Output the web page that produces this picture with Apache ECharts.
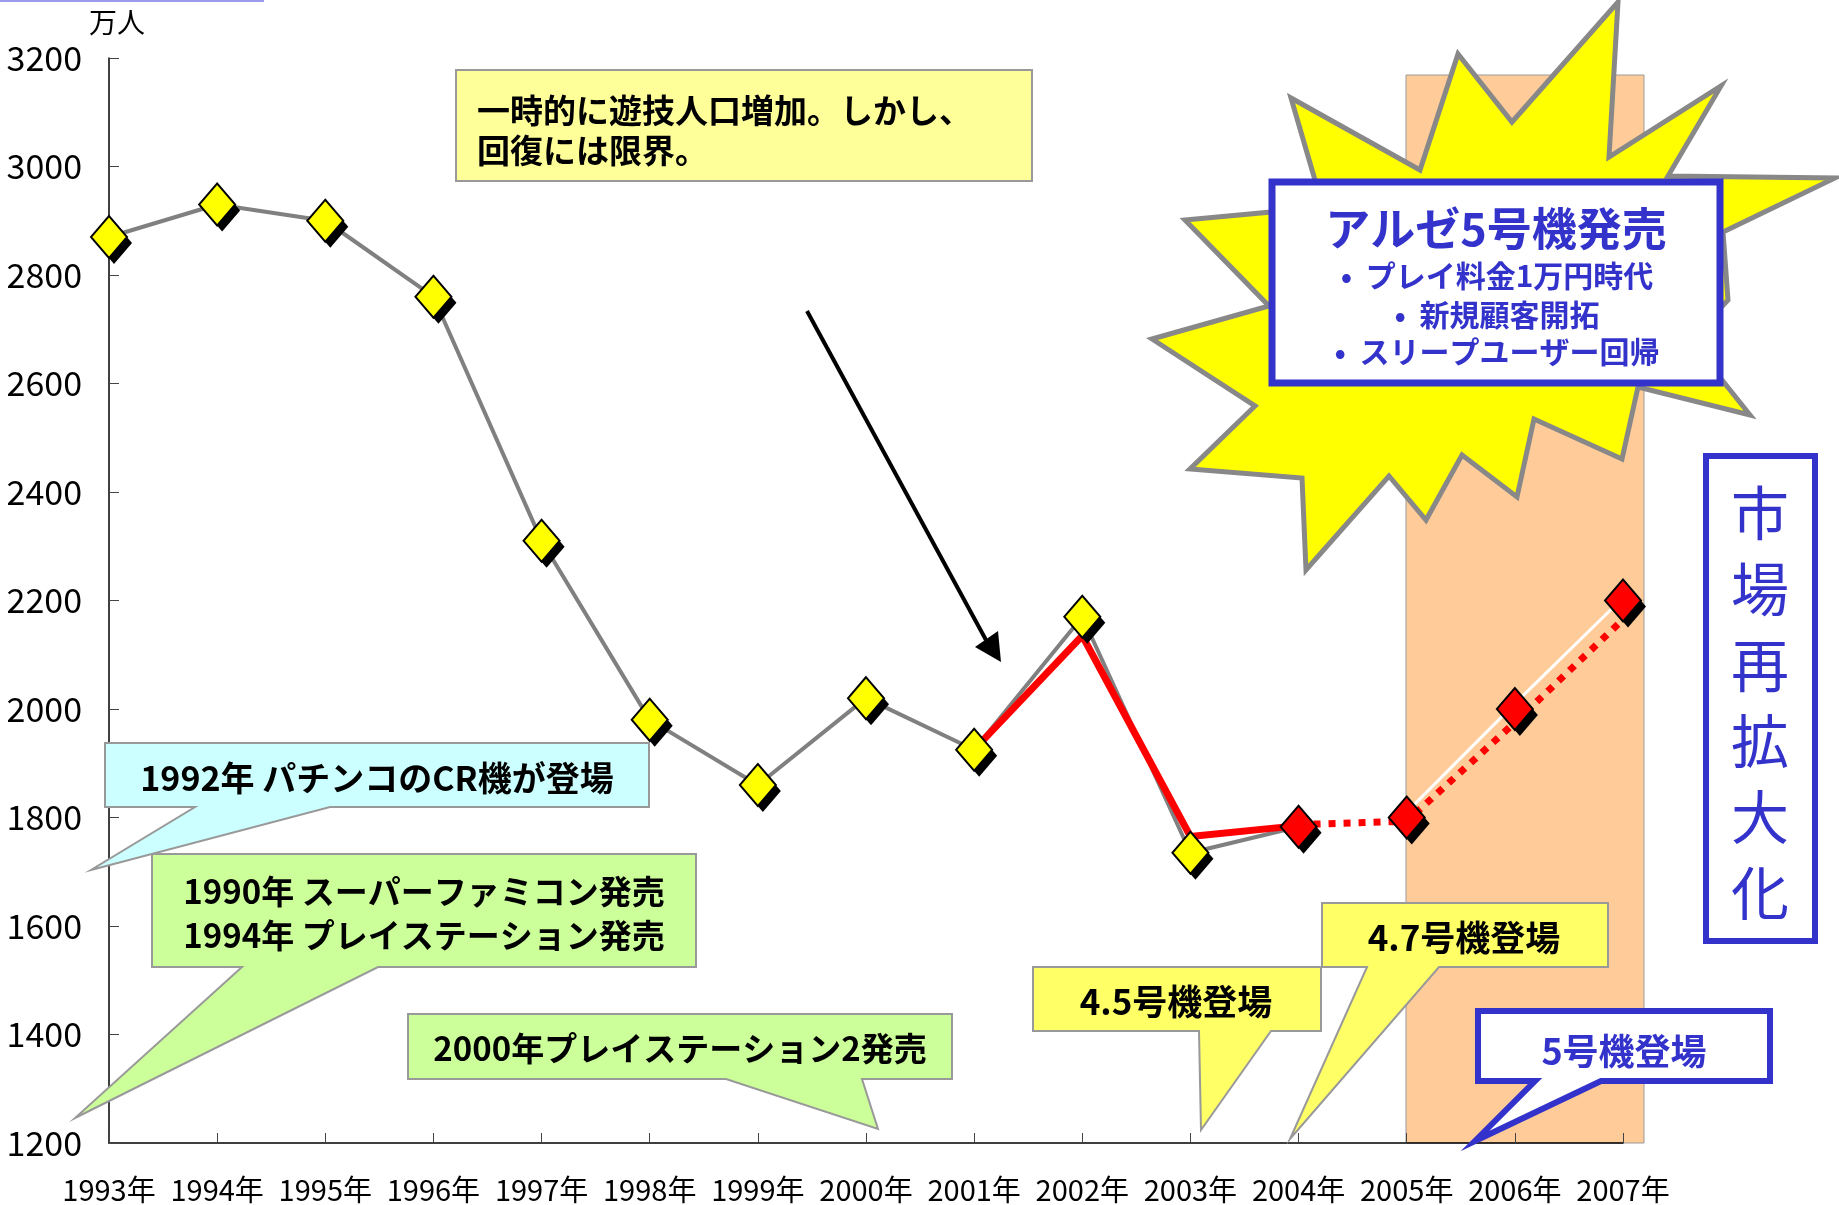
<!DOCTYPE html>
<html>
<head>
<meta charset="utf-8">
<script src="https://cdn.jsdelivr.net/npm/echarts@6/dist/echarts.min.js"></script>
<style>
  html, body { margin: 0; padding: 0; background: #fff; }
  #container { width: 1839px; height: 1205px; }
</style>
</head>
<body>
<div id="container"></div>
<script>
var years = ['1993年', '1994年', '1995年', '1996年', '1997年', '1998年', '1999年', '2000年',
  '2001年', '2002年', '2003年', '2004年', '2005年', '2006年', '2007年'];
// 遊技人口 (万人)
var yellowPoints = [2870, 2930, 2900, 2760, 2310, 1980, 1860, 2020, 1925, 2170, 1735, '-', '-', '-', '-'];
var redPoints = ['-', '-', '-', '-', '-', '-', '-', '-', '-', '-', '-', 1783, 1800, 2000, 2200];
var grayLine = [2870, 2930, 2900, 2760, 2310, 1980, 1860, 2020, 1925, 2170, 1735, 1783, '-', '-', '-'];
var redLine = ['-', '-', '-', '-', '-', '-', '-', '-', 1925, 2135, 1765, 1785, '-', '-', '-'];
var dottedLine = ['-', '-', '-', '-', '-', '-', '-', '-', '-', '-', '-', 1787, 1793, 1975, 2165];
var whiteLine = ['-', '-', '-', '-', '-', '-', '-', '-', '-', '-', '-', '-', 1810, 2010, 2205];
var yMin = 1200, yMax = 3200, yStep = 200;

var dom = document.getElementById('container');
var myChart = echarts.init(dom, null, { renderer: 'canvas' });

var labelFont = "'Liberation Sans Narrow', 'Noto Sans CJK JP', sans-serif";
var jp = "'Noto Sans CJK JP', sans-serif";
var BLUE = '#3333CC';

// callout = box + tail in one outline
function callout(x1, y1, x2, y2, a, b, tx, ty) {
  return [[x1, y1], [x2, y1], [x2, y2], [b, y2], [tx, ty], [a, y2], [x1, y2]];
}

var starPts = [[1618, 2], [1609, 157], [1721, 86], [1668, 176], [1835, 178], [1723, 232], [1728, 300],
  [1690, 340], [1750, 415], [1638, 387], [1622, 459], [1534, 419], [1517, 497], [1462, 455], [1426, 520],
  [1389, 476], [1306, 570], [1302, 478], [1190, 469], [1255, 406], [1152, 339], [1269, 306], [1185, 220],
  [1271, 212], [1315, 180], [1291, 98], [1420, 170], [1458, 54], [1512, 122]];

function txt(text, x, y, size, opts) {
  opts = opts || {};
  return {
    type: 'text', z: 110,
    style: {
      text: text, x: x, y: y,
      fontSize: size, fontWeight: opts.weight || 'bold', fontFamily: jp,
      fill: opts.color || '#000', align: opts.align || 'center', verticalAlign: 'middle',
      lineHeight: opts.lineHeight
    }
  };
}

var graphics = [
  // 2005年以降の背景
  { type: 'rect', z: 0, shape: { x: 1406, y: 75, width: 238, height: 1068 },
    style: { fill: '#FFCC99', stroke: '#999', lineWidth: 1 } },
  { type: 'rect', z: 100, shape: { x: 0, y: 0, width: 264, height: 2 }, style: { fill: '#9999EE' } },
  txt('万人', 117, 22, 28, { weight: 'normal' }),
  // 吹き出し
  { type: 'rect', z: 100, shape: { x: 456, y: 70, width: 576, height: 111 },
    style: { fill: '#FFFF99', stroke: '#999', lineWidth: 2 } },
  txt('一時的に遊技人口増加。しかし、\n回復には限界。', 477, 130, 33, { align: 'left', lineHeight: 40 }),
  { type: 'polygon', z: 100, shape: { points: callout(105, 743, 649, 807, 195, 330, 91, 870) },
    style: { fill: '#CCFFFF', stroke: '#999', lineWidth: 2 } },
  txt('1992年 パチンコのCR機が登場', 377, 778, 34),
  { type: 'polygon', z: 100, shape: { points: callout(152, 854, 696, 967, 242, 378, 75, 1118) },
    style: { fill: '#CCFF99', stroke: '#999', lineWidth: 2 } },
  txt('1990年 スーパーファミコン発売\n1994年 プレイステーション発売', 424, 913, 33, { lineHeight: 44 }),
  { type: 'polygon', z: 100, shape: { points: callout(408, 1014, 952, 1079, 726, 862, 878, 1129) },
    style: { fill: '#CCFF99', stroke: '#999', lineWidth: 2 } },
  txt('2000年プレイステーション2発売', 680, 1048, 33),
  { type: 'polygon', z: 100, shape: { points: callout(1033, 967, 1321, 1031, 1199, 1271, 1201, 1130) },
    style: { fill: '#FFFF66', stroke: '#999', lineWidth: 2 } },
  txt('4.5号機登場', 1176, 1002, 35),
  { type: 'polygon', z: 101, shape: { points: callout(1322, 903, 1608, 967, 1367, 1439, 1290, 1139) },
    style: { fill: '#FFFF66', stroke: '#999', lineWidth: 2 } },
  txt('4.7号機登場', 1464, 938, 35),
  { type: 'polygon', z: 100, shape: { points: callout(1478, 1011, 1770, 1081, 1535, 1601, 1475, 1141) },
    style: { fill: '#fff', stroke: BLUE, lineWidth: 6, lineJoin: 'miter' } },
  txt('5号機登場', 1624, 1051, 36, { color: BLUE }),
  // 矢印
  { type: 'line', z: 100, shape: { x1: 807, y1: 311, x2: 986, y2: 640 },
    style: { stroke: '#000', lineWidth: 4 } },
  { type: 'polygon', z: 100, shape: { points: [[1001, 662], [975, 647], [998, 631]] },
    style: { fill: '#000' } },
  // 爆発マーク
  { type: 'polygon', z: 100, shape: { points: starPts },
    style: { fill: '#FFFF00', stroke: '#888', lineWidth: 5, lineJoin: 'miter' } },
  { type: 'rect', z: 101, shape: { x: 1272, y: 182, width: 448, height: 201 },
    style: { fill: '#fff', stroke: BLUE, lineWidth: 7 } },
  txt('アルゼ5号機発売', 1496, 229, 45, { color: BLUE }),
  txt('•  プレイ料金1万円時代', 1497, 276, 30, { color: BLUE }),
  txt('•  新規顧客開拓', 1497, 315, 30, { color: BLUE }),
  txt('•  スリープユーザー回帰', 1497, 352, 30, { color: BLUE }),
  // 市場再拡大化
  { type: 'rect', z: 100, shape: { x: 1706, y: 456, width: 109, height: 485 },
    style: { fill: '#fff', stroke: BLUE, lineWidth: 6 } },
  txt('市\n場\n再\n拡\n大\n化', 1760, 703, 58, { color: BLUE, weight: 'normal', lineHeight: 76 })
];

function diamonds(data, color, z, offset) {
  return {
    type: 'scatter', data: data, symbol: 'diamond', symbolSize: [36, 42], z: z,
    symbolOffset: offset || [0, 0], silent: true,
    itemStyle: { color: color, opacity: 1, borderColor: '#000', borderWidth: offset ? 0 : 2 }
  };
}

var option = {
  animation: false,
  backgroundColor: '#fff',
  grid: { left: 109, right: 216, top: 58, bottom: 62, containLabel: false, outerBoundsMode: 'none' },
  xAxis: {
    type: 'category',
    data: years,
    boundaryGap: false,
    axisLine: { lineStyle: { color: '#000', width: 1.5 } },
    axisTick: { inside: true, length: 10, lineStyle: { color: '#444' } },
    axisLabel: { interval: 0, margin: 32, fontSize: 29, color: '#000', fontFamily: labelFont }
  },
  yAxis: {
    type: 'value',
    min: yMin, max: yMax, interval: yStep,
    axisLine: { show: true, lineStyle: { color: '#000', width: 1.5 } },
    axisTick: { show: true, inside: true, length: 10, lineStyle: { color: '#444' } },
    splitLine: { show: false },
    axisLabel: {
      margin: 27, fontSize: 34, color: '#000', fontFamily: labelFont,
      formatter: function (v) { return String(v); }
    }
  },
  graphic: graphics,
  series: [
    { type: 'line', data: grayLine, symbol: 'none', z: 3,
      lineStyle: { color: '#808080', width: 4 } },
    { type: 'line', data: redLine, symbol: 'none', z: 4,
      lineStyle: { color: '#FF0000', width: 7 } },
    { type: 'line', data: dottedLine, symbol: 'none', z: 4,
      lineStyle: { color: '#FF0000', width: 7, type: [7, 8], cap: 'butt' } },
    { type: 'line', data: whiteLine, symbol: 'none', z: 4,
      lineStyle: { color: '#FFFFFF', width: 3 } },
    // 影
    diamonds(yellowPoints, '#000', 5, [5, 6]),
    diamonds(redPoints, '#000', 5, [5, 6]),
    diamonds(yellowPoints, '#FFFF00', 6),
    diamonds(redPoints, '#FF0000', 6)
  ]
};

myChart.setOption(option);
window.addEventListener('resize', myChart.resize);
</script>
</body>
</html>
